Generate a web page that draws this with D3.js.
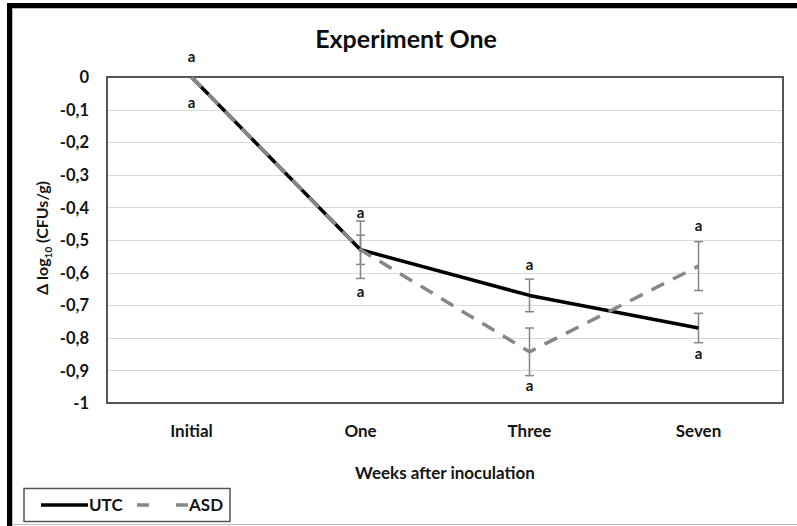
<!DOCTYPE html>
<html>
<head>
<meta charset="utf-8">
<script src="https://cdn.jsdelivr.net/npm/d3@7"></script>
<style>
  html, body { margin: 0; padding: 0; background: #fff; }
  svg { display: block; font-family: Lato, "Open Sans", sans-serif; }
</style>
</head>
<body>
<svg id="chart" width="797" height="526"></svg>
<script>
// Sampling times
const weeks = ["Initial", "One", "Three", "Seven"];

// Mean change in log10 CFUs/g per treatment
const utcValues = [0, -0.53, -0.67, -0.77];
const asdValues = [0, -0.53, -0.843, -0.58];

// Error bar half-widths
const utcErrors = [0, 0.045, 0.05, 0.045];
const asdErrors = [0, 0.088, 0.073, 0.075];

// Significance letters (all "a") and where they sit, in axis units
const lettersAbove = ["a", "a", "a", "a"];
const lettersAboveAt = [0.061, -0.417, -0.577, -0.457];
const lettersBelow = ["a", "a", "a", "a"];
const lettersBelowAt = [-0.08, -0.66, -0.948, -0.85];

// Y axis ticks
const yTicks = [0, -0.1, -0.2, -0.3, -0.4, -0.5, -0.6, -0.7, -0.8, -0.9, -1];

const series = [
  { name: "UTC", values: utcValues, errors: utcErrors, color: "#000000", dash: null },
  { name: "ASD", values: asdValues, errors: asdErrors, color: "#878787", dash: "14 10" }
];

const svg = d3.select("#chart");
const W = 797, H = 526;
const plot = { left: 107, right: 783, top: 77, bottom: 403 };
const ink = "#141414";

// Outer frame
svg.append("rect").attr("x", 0).attr("y", 0).attr("width", W).attr("height", H).attr("fill", "#fff");
svg.append("rect").attr("x", 7).attr("y", 3).attr("width", W - 7).attr("height", 5).attr("fill", "#000");
svg.append("rect").attr("x", 7).attr("y", 3).attr("width", 5).attr("height", H - 3).attr("fill", "#000");
svg.append("line").attr("x1", 12.5).attr("x2", 12.5).attr("y1", 8).attr("y2", H)
  .attr("stroke", "#bdbdbd").attr("stroke-width", 1);
svg.append("line").attr("x1", 12).attr("x2", W).attr("y1", 8.5).attr("y2", 8.5)
  .attr("stroke", "#bdbdbd").attr("stroke-width", 1);
svg.append("line").attr("x1", 12).attr("x2", W).attr("y1", 524.5).attr("y2", 524.5)
  .attr("stroke", "#bdbdbd").attr("stroke-width", 1);

const x = d3.scaleBand().domain(weeks).range([plot.left, plot.right]);
const y = d3.scaleLinear().domain([-1, 0]).range([plot.bottom, plot.top]);
const cx = d => x(d) + x.bandwidth() / 2;

// Gridlines
svg.append("g").selectAll("line").data(yTicks.filter(t => t !== 0 && t !== -1)).join("line")
  .attr("x1", plot.left).attr("x2", plot.right)
  .attr("y1", d => Math.round(y(d)) + 0.5).attr("y2", d => Math.round(y(d)) + 0.5)
  .attr("stroke", "#d9d9d9").attr("stroke-width", 1);

// Plot frame
svg.append("rect")
  .attr("x", plot.left).attr("y", plot.top)
  .attr("width", plot.right - plot.left).attr("height", plot.bottom - plot.top)
  .attr("fill", "none").attr("stroke", "#555").attr("stroke-width", 2);

// Y axis labels
const fmt = v => v === 0 ? "0" : d3.format(".1~f")(v).replace(".", ",").replace("−", "-");
const yAxis = d3.axisLeft(y).tickValues(yTicks).tickSize(0).tickPadding(0).tickFormat(fmt);
const gy = svg.append("g").attr("transform", `translate(89,0)`).call(yAxis);
gy.select(".domain").remove();
gy.selectAll("text").attr("font-size", 16.5).attr("font-weight", 700).attr("fill", ink)
  .attr("font-family", "Lato, sans-serif").attr("dy", "0.35em");

// X axis labels
const xAxis = d3.axisBottom(x).tickSize(0).tickPadding(0);
const gx = svg.append("g").attr("transform", `translate(0,431)`).call(xAxis);
gx.select(".domain").remove();
gx.selectAll("text").attr("font-size", 17).attr("font-weight", 700).attr("fill", ink)
  .attr("font-family", "Lato, sans-serif").attr("dy", "0.35em");

// Error bars
series.forEach(s => {
  const g = svg.append("g");
  weeks.forEach((w, i) => {
    if (s.errors[i] <= 0) return;
    const top = y(s.values[i] + s.errors[i]);
    const bot = y(s.values[i] - s.errors[i]);
    const xc = cx(w);
    g.append("line").attr("x1", xc).attr("x2", xc).attr("y1", top).attr("y2", bot)
      .attr("stroke", "#858585").attr("stroke-width", 1.5);
    [top, bot].forEach(yy => g.append("line")
      .attr("x1", xc - 4.5).attr("x2", xc + 4.5).attr("y1", yy).attr("y2", yy)
      .attr("stroke", "#858585").attr("stroke-width", 1.5));
  });
});

// Lines
const line = d3.line().x((d, i) => cx(weeks[i])).y(d => y(d));
series.forEach(s => {
  svg.append("path").datum(s.values)
    .attr("d", line).attr("fill", "none")
    .attr("stroke", s.color).attr("stroke-width", 3.5)
    .attr("stroke-linejoin", "round")
    .attr("stroke-dasharray", s.dash);
});

// Significance letters
const letterStyle = sel => sel.attr("text-anchor", "middle").attr("dy", "0.35em")
  .attr("font-size", 15).attr("font-weight", 700).attr("fill", ink);
svg.append("g").selectAll("text").data(weeks).join("text")
  .attr("x", d => cx(d)).attr("y", (d, i) => y(lettersAboveAt[i]))
  .text((d, i) => lettersAbove[i]).call(letterStyle);
svg.append("g").selectAll("text").data(weeks).join("text")
  .attr("x", d => cx(d)).attr("y", (d, i) => y(lettersBelowAt[i]))
  .text((d, i) => lettersBelow[i]).call(letterStyle);

// Title
svg.append("text").attr("x", 406).attr("y", 39).attr("text-anchor", "middle").attr("dy", "0.35em")
  .attr("font-size", 25).attr("font-weight", 700).attr("fill", "#0d0d0d")
  .text("Experiment One");

// Axis titles
svg.append("text").attr("x", (plot.left + plot.right) / 2).attr("y", 473)
  .attr("text-anchor", "middle").attr("dy", "0.35em")
  .attr("font-size", 17).attr("font-weight", 700).attr("fill", ink)
  .text("Weeks after inoculation");

const yt = svg.append("text").attr("transform", "translate(42,238) rotate(-90)")
  .attr("text-anchor", "middle").attr("dy", "0.35em")
  .attr("font-size", 16).attr("font-weight", 700).attr("fill", ink);
yt.append("tspan").text("Δ log");
yt.append("tspan").attr("font-size", 10).attr("dy", "4").text("10");
yt.append("tspan").attr("dy", "-4").text(" (CFUs/g)");

// Legend
const lg = svg.append("g");
lg.append("rect").attr("x", 24).attr("y", 488.5).attr("width", 206).attr("height", 33)
  .attr("fill", "#fff").attr("stroke", "#555").attr("stroke-width", 1.5);
lg.append("line").attr("x1", 41).attr("x2", 88).attr("y1", 505).attr("y2", 505)
  .attr("stroke", series[0].color).attr("stroke-width", 3.5);
lg.append("text").attr("x", 89).attr("y", 505).attr("dy", "0.35em")
  .attr("font-size", 17).attr("font-weight", 700).attr("fill", ink).text(series[0].name);
lg.append("line").attr("x1", 137).attr("x2", 188).attr("y1", 505).attr("y2", 505)
  .attr("stroke", series[1].color).attr("stroke-width", 3.5)
  .attr("stroke-dasharray", "12 27");
lg.append("text").attr("x", 189).attr("y", 505).attr("dy", "0.35em")
  .attr("font-size", 17).attr("font-weight", 700).attr("fill", ink).text(series[1].name);
</script>
</body>
</html>
